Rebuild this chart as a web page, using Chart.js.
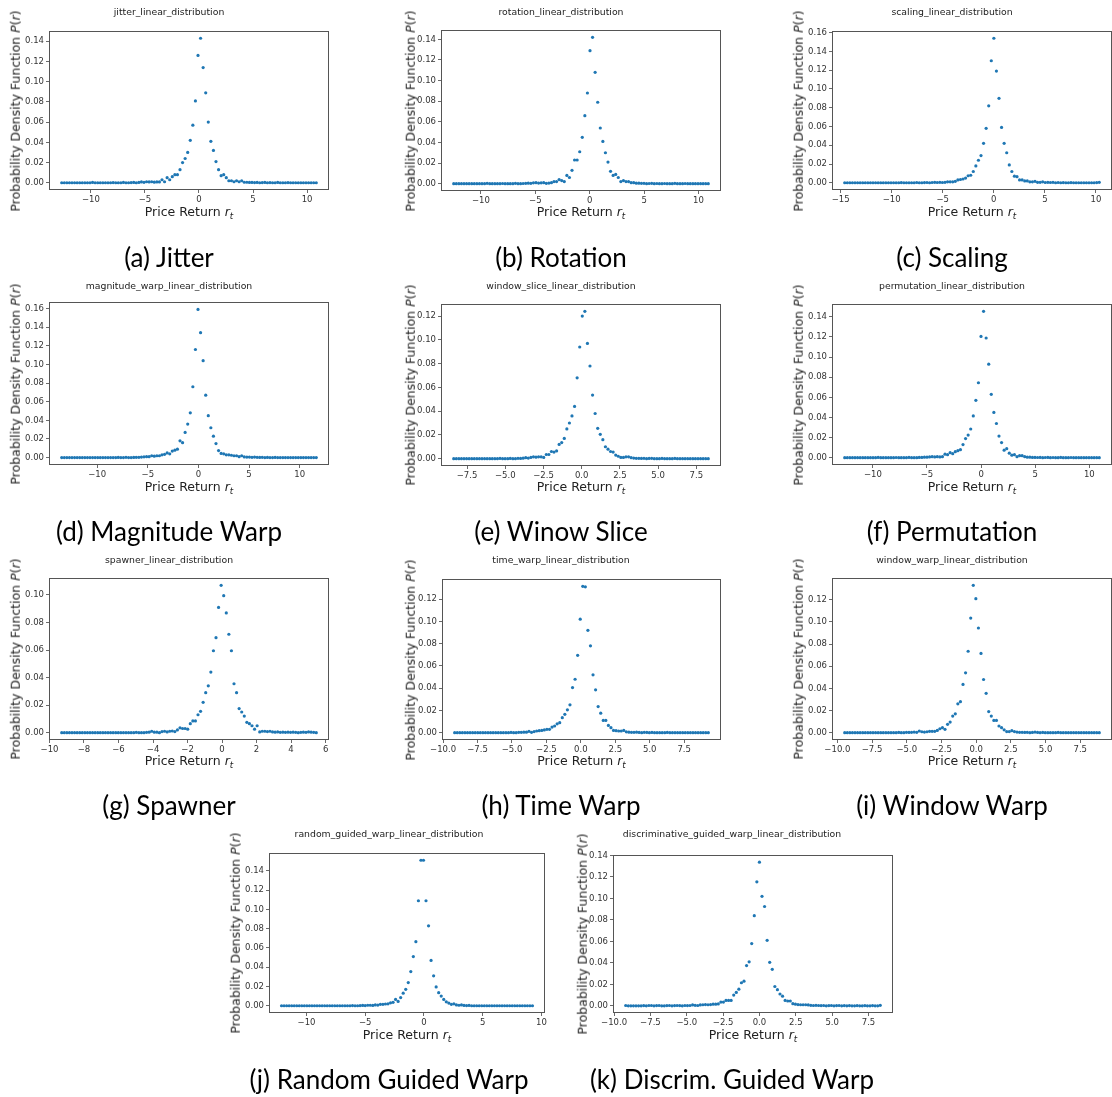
<!DOCTYPE html>
<html lang="en">
<head>
<meta charset="UTF-8">
<title>Linear distributions of augmented price returns</title>
<script src="https://cdn.jsdelivr.net/npm/chart.js"></script>
<style>
  body { margin: 0; background: #fff; }
  #page { position: relative; width: 1112px; height: 1097px; overflow: hidden; background: #fff; font-family: "DejaVu Sans", sans-serif; }
  #page canvas { position: absolute; }
  .lbl { position: absolute; white-space: nowrap; color: #222; line-height: 1; transform: translate(-50%, -50%); }
  .title { font-size: 9.3px; }
  .xlab { font-size: 12.5px; }
  .ylab { font-size: 12.5px; transform: translate(-50%, -50%) rotate(-90deg); }
  .sub { font-size: 0.7em; font-style: italic; position: relative; top: 0.35em; }
  .caption { font-family: Lato, sans-serif; font-size: 26px; color: #000; }
</style>
</head>
<body>
<div id="page"></div>
<script>
// Probability density of price returns, 100 bins per augmentation method
const jitterRange = [-12.7, 10.85];
const jitterPdf = [
  0, 0, 0, 0, 0, 0, 0, 0, 0, 0,
  0, 0, 0.0003, 0, 0, 0, 0, 0, 0, 0,
  0.0002, 0, 0, 0, 0.0003, 0, 0, 0.0002, 0.0003, 0,
  0.0003, 0.0008, 0.0004, 0.001, 0.0008, 0.001, 0.0006, 0.0008, 0.0008, 0.003,
  0.001, 0.005, 0.003, 0.006, 0.008, 0.008, 0.013, 0.02, 0.024, 0.03,
  0.042, 0.057, 0.081, 0.126, 0.143, 0.114, 0.089, 0.06, 0.041, 0.032,
  0.021, 0.013, 0.007, 0.008, 0.005, 0.002, 0.002, 0.001, 0.002, 0.001,
  0.002, 0.0005, 0.0005, 0.0003, 0.0003, 0.0002, 0.0003, 0, 0.0002, 0.0003,
  0, 0.0002, 0, 0, 0.0003, 0, 0, 0, 0.0002, 0,
  0, 0, 0, 0, 0, 0, 0, 0, 0, 0
];

const rotationRange = [-12.5, 10.9];
const rotationPdf = [
  0, 0, 0, 0, 0, 0, 0, 0, 0, 0,
  0, 0, 0, 0.0003, 0, 0, 0, 0, 0, 0.0002,
  0, 0, 0, 0, 0.0003, 0, 0, 0.0002, 0.0003, 0.0005,
  0.0003, 0.0008, 0.001, 0.0006, 0.0008, 0.001, 0.0003, 0.0006, 0.001, 0.002,
  0.002, 0.004, 0.003, 0.002, 0.008, 0.006, 0.013, 0.023, 0.023, 0.031,
  0.045, 0.066, 0.088, 0.129, 0.142, 0.108, 0.079, 0.054, 0.041, 0.03,
  0.021, 0.012, 0.008, 0.009, 0.006, 0.002, 0.003, 0.002, 0.002, 0.001,
  0.001, 0.0005, 0.0005, 0.0003, 0.0003, 0, 0.0002, 0.0003, 0, 0.0002,
  0, 0, 0.0002, 0, 0, 0, 0.0003, 0, 0, 0,
  0.0002, 0, 0, 0, 0, 0, 0, 0, 0, 0
];

const scalingRange = [-14.6, 10.33];
const scalingPdf = [
  0, 0, 0, 0, 0, 0, 0, 0, 0, 0,
  0, 0, 0, 0, 0, 0, 0, 0, 0, 0,
  0, 0, 0.0002, 0, 0, 0, 0, 0, 0.0003, 0,
  0, 0.0002, 0.0003, 0, 0.0003, 0.0005, 0.0003, 0.0005, 0.0003, 0.0005,
  0.001, 0.001, 0.001, 0.0015, 0.003, 0.0035, 0.004, 0.005, 0.0075, 0.008,
  0.012, 0.018, 0.024, 0.029, 0.042, 0.058, 0.082, 0.13, 0.154, 0.119,
  0.09, 0.059, 0.042, 0.032, 0.019, 0.012, 0.007, 0.0065, 0.003, 0.003,
  0.002, 0.002, 0.001, 0.001, 0.0015, 0.0005, 0.0005, 0.001, 0.0003, 0.0005,
  0.0003, 0.0005, 0, 0.0003, 0, 0.0002, 0, 0, 0.0002, 0,
  0, 0, 0, 0, 0, 0, 0, 0, 0.0002, 0.0005
];

const magnitudeWarpRange = [-13.5, 11.64];
const magnitudeWarpPdf = [
  0, 0, 0, 0, 0, 0, 0, 0, 0, 0,
  0, 0, 0, 0, 0, 0, 0, 0, 0, 0,
  0, 0, 0.0002, 0, 0, 0.0003, 0, 0, 0.0002, 0.0003,
  0.0003, 0.0005, 0.0008, 0.001, 0.001, 0.002, 0.0015, 0.002, 0.002, 0.003,
  0.0035, 0.005, 0.004, 0.007, 0.008, 0.009, 0.018, 0.016, 0.027, 0.036,
  0.048, 0.076, 0.116, 0.159, 0.134, 0.104, 0.067, 0.045, 0.032, 0.023,
  0.015, 0.0075, 0.0045, 0.004, 0.003, 0.003, 0.0025, 0.002, 0.002, 0.001,
  0.002, 0.0007, 0.0005, 0.0005, 0.0003, 0.0005, 0.0003, 0.0002, 0.0003, 0,
  0.0002, 0, 0, 0.0002, 0, 0, 0, 0, 0, 0,
  0, 0, 0, 0, 0, 0, 0, 0, 0, 0
];

const windowSliceRange = [-8.37, 8.28];
const windowSlicePdf = [
  0, 0, 0, 0, 0, 0, 0, 0, 0, 0,
  0, 0, 0, 0, 0, 0, 0, 0, 0.0002, 0,
  0, 0, 0.0002, 0, 0, 0.0003, 0.0002, 0.0004, 0.0008, 0.0005,
  0.001, 0.0015, 0.0012, 0.0015, 0.0015, 0.001, 0.0035, 0.0035, 0.006, 0.0055,
  0.0065, 0.012, 0.0135, 0.017, 0.025, 0.03, 0.036, 0.044, 0.068, 0.094,
  0.12, 0.124, 0.097, 0.078, 0.0535, 0.038, 0.0255, 0.0205, 0.016, 0.01,
  0.008, 0.006, 0.0055, 0.003, 0.002, 0.001, 0.001, 0.0015, 0.0015, 0.0008,
  0.0005, 0.0003, 0.0003, 0.0002, 0.0003, 0, 0.0002, 0.0003, 0, 0,
  0, 0.0002, 0, 0, 0, 0, 0.0002, 0, 0, 0,
  0, 0, 0, 0, 0, 0, 0, 0, 0, 0
];

const permutationRange = [-12.6, 10.92];
const permutationPdf = [
  0, 0, 0, 0, 0, 0, 0, 0, 0, 0,
  0, 0, 0, 0.0003, 0, 0, 0, 0, 0, 0,
  0.0002, 0, 0, 0, 0, 0.0003, 0, 0, 0, 0.0003,
  0.0003, 0.0005, 0.0005, 0.0008, 0.001, 0.0008, 0.001, 0.0008, 0.001, 0.0035,
  0.003, 0.005, 0.004, 0.006, 0.007, 0.008, 0.013, 0.019, 0.0225, 0.0285,
  0.0415, 0.057, 0.0745, 0.1205, 0.1455, 0.119, 0.093, 0.063, 0.045, 0.034,
  0.0215, 0.015, 0.0075, 0.009, 0.0045, 0.0025, 0.003, 0.001, 0.002, 0.002,
  0.001, 0.0005, 0.0005, 0.0003, 0.0003, 0.0002, 0.0003, 0, 0.0002, 0.0003,
  0, 0.0002, 0, 0, 0.0003, 0, 0, 0, 0.0002, 0,
  0, 0, 0, 0, 0, 0, 0, 0, 0, 0
];

const spawnerRange = [-9.29, 5.46];
const spawnerPdf = [
  0, 0, 0, 0, 0, 0, 0, 0, 0, 0,
  0, 0, 0, 0, 0, 0, 0, 0, 0, 0,
  0, 0, 0, 0, 0, 0, 0, 0, 0, 0.0002,
  0, 0, 0, 0.0002, 0.0003, 0.001, 0.0003, 0.0003, 0, 0.0008,
  0.001, 0.0005, 0.001, 0.0012, 0.0008, 0.002, 0.0035, 0.003, 0.003, 0.0025,
  0.0065, 0.0085, 0.0085, 0.013, 0.0155, 0.022, 0.029, 0.034, 0.044, 0.0595,
  0.069, 0.091, 0.107, 0.0995, 0.087, 0.0715, 0.0595, 0.0355, 0.029, 0.0175,
  0.015, 0.012, 0.0075, 0.0065, 0.005, 0.0025, 0.005, 0.0005, 0.001, 0.001,
  0.0008, 0.001, 0.0005, 0.0003, 0.0005, 0.0002, 0.0003, 0.0002, 0.0003, 0.0002,
  0.0003, 0.0002, 0, 0.0002, 0.0003, 0.0002, 0.0005, 0.0003, 0.0002, 0
];

const timeWarpRange = [-9.16, 9.25];
const timeWarpPdf = [
  0, 0, 0, 0, 0, 0, 0, 0, 0, 0,
  0, 0, 0, 0, 0, 0, 0, 0, 0, 0,
  0, 0, 0.0002, 0, 0, 0.0003, 0.0003, 0.0005, 0.0005, 0.0012,
  0.0003, 0.001, 0.0015, 0.0018, 0.002, 0.0025, 0.003, 0.003, 0.005, 0.006,
  0.008, 0.009, 0.0135, 0.0165, 0.0205, 0.025, 0.0405, 0.048, 0.0695, 0.102,
  0.1315, 0.131, 0.092, 0.078, 0.052, 0.0385, 0.0235, 0.0175, 0.011, 0.011,
  0.0065, 0.0045, 0.002, 0.0018, 0.0015, 0.0015, 0.002, 0.0008, 0.0005, 0.0003,
  0.0003, 0.0005, 0.0002, 0, 0.0003, 0.0002, 0, 0.0002, 0, 0,
  0, 0, 0, 0.0002, 0, 0, 0, 0, 0, 0,
  0, 0, 0, 0, 0, 0, 0, 0, 0, 0
];

const windowWarpRange = [-9.47, 8.87];
const windowWarpPdf = [
  0, 0, 0, 0, 0, 0, 0, 0, 0, 0,
  0, 0, 0, 0, 0, 0, 0, 0, 0, 0,
  0, 0.0002, 0, 0, 0.0003, 0.0002, 0.0003, 0.0005, 0.0003, 0.0015,
  0.0008, 0.0005, 0.0008, 0.0012, 0.0012, 0.0012, 0.002, 0.0035, 0.0045, 0.003,
  0.0075, 0.0095, 0.015, 0.017, 0.026, 0.028, 0.0435, 0.054, 0.0735, 0.1035,
  0.133, 0.121, 0.0945, 0.0715, 0.048, 0.0355, 0.019, 0.015, 0.011, 0.011,
  0.006, 0.0045, 0.0025, 0.001, 0.001, 0.0018, 0.001, 0.0005, 0.0003, 0.0003,
  0.0002, 0.0003, 0, 0.0002, 0.0005, 0.0002, 0, 0.0002, 0, 0,
  0, 0, 0, 0.0002, 0, 0, 0, 0, 0, 0,
  0, 0, 0, 0, 0, 0, 0, 0, 0, 0
];

const randomGuidedRange = [-12.13, 9.24];
const randomGuidedPdf = [
  0, 0, 0, 0, 0, 0, 0, 0, 0, 0,
  0, 0, 0, 0, 0, 0, 0, 0, 0, 0,
  0, 0, 0, 0, 0, 0, 0, 0, 0.0002, 0,
  0, 0.0002, 0.0003, 0.0002, 0.0005, 0.0005, 0.0003, 0.0008, 0.0007, 0.0015,
  0.0015, 0.0018, 0.002, 0.003, 0.0035, 0.0065, 0.0045, 0.0085, 0.013, 0.017,
  0.024, 0.0355, 0.051, 0.0665, 0.109, 0.151, 0.151, 0.109, 0.083, 0.047,
  0.031, 0.0195, 0.0135, 0.01, 0.0065, 0.004, 0.0028, 0.0015, 0.002, 0.0008,
  0.0005, 0.0008, 0.0003, 0.0002, 0.0003, 0, 0, 0, 0, 0,
  0, 0, 0, 0, 0, 0, 0, 0, 0, 0,
  0, 0, 0, 0, 0, 0, 0, 0, 0, 0
];

const discrimGuidedRange = [-9.2, 8.31];
const discrimGuidedPdf = [
  0.0003, 0, 0, 0, 0, 0, 0, 0.0002, 0, 0.0003,
  0.0003, 0, 0.0002, 0.0003, 0, 0, 0.0002, 0.0003, 0, 0.0002,
  0.0003, 0.0002, 0, 0.0003, 0.0002, 0.0003, 0.0008, 0.0005, 0.0003, 0.0008,
  0.001, 0.0012, 0.001, 0.0012, 0.0015, 0.0015, 0.0018, 0.0035, 0.0035, 0.005,
  0.005, 0.005, 0.01, 0.0125, 0.0155, 0.0215, 0.023, 0.0375, 0.041, 0.058,
  0.084, 0.1155, 0.1338, 0.102, 0.0925, 0.061, 0.0405, 0.034, 0.018, 0.015,
  0.011, 0.009, 0.005, 0.0045, 0.0045, 0.002, 0.0015, 0.0012, 0.001, 0.001,
  0.001, 0.0008, 0.0005, 0.0003, 0.0005, 0.0003, 0.0002, 0.0003, 0, 0.0002,
  0.0003, 0, 0.0002, 0.0003, 0, 0.0002, 0, 0.0002, 0, 0,
  0.0002, 0, 0, 0.0002, 0, 0, 0.0002, 0, 0, 0.0005
];

// tick values
const xTicksBy5 = [-10, -5, 0, 5, 10];
const xTicksScaling = [-15, -10, -5, 0, 5, 10];
const xTicksSlice = [-7.5, -5, -2.5, 0, 2.5, 5, 7.5];
const xTicksBy2 = [-10, -8, -6, -4, -2, 0, 2, 4, 6];
const xTicksWarp = [-10, -7.5, -5, -2.5, 0, 2.5, 5, 7.5];
const yTicks10 = [0, 0.02, 0.04, 0.06, 0.08, 0.1];
const yTicks12 = [0, 0.02, 0.04, 0.06, 0.08, 0.1, 0.12];
const yTicks14 = [0, 0.02, 0.04, 0.06, 0.08, 0.1, 0.12, 0.14];
const yTicks16 = [0, 0.02, 0.04, 0.06, 0.08, 0.1, 0.12, 0.14, 0.16];

// panel layout: plot box [left, top, right, bottom] in page pixels
const panels = [
  { caption: "(a) Jitter", title: "jitter_linear_distribution", pdf: jitterPdf, range: jitterRange,
    xTicks: xTicksBy5, xDigits: 0, yTicks: yTicks14, box: [49, 31, 329, 190], titleAt: [169, 12], captionAt: [169, 257], xLabelY: 212, yLabelX: 16 },
  { caption: "(b) Rotation", title: "rotation_linear_distribution", pdf: rotationPdf, range: rotationRange,
    xTicks: xTicksBy5, xDigits: 0, yTicks: yTicks14, box: [441, 30, 721, 191], titleAt: [561, 12], captionAt: [561, 257], xLabelY: 212, yLabelX: 411 },
  { caption: "(c) Scaling", title: "scaling_linear_distribution", pdf: scalingPdf, range: scalingRange,
    xTicks: xTicksScaling, xDigits: 0, yTicks: yTicks16, box: [832, 31, 1112, 190], titleAt: [952, 12], captionAt: [952, 257], xLabelY: 212, yLabelX: 799 },
  { caption: "(d) Magnitude Warp", title: "magnitude_warp_linear_distribution", pdf: magnitudeWarpPdf, range: magnitudeWarpRange,
    xTicks: xTicksBy5, xDigits: 0, yTicks: yTicks16, box: [49, 302, 329, 465], titleAt: [169, 286], captionAt: [169, 531], xLabelY: 487, yLabelX: 16 },
  { caption: "(e) Winow Slice", title: "window_slice_linear_distribution", pdf: windowSlicePdf, range: windowSliceRange,
    xTicks: xTicksSlice, xDigits: 1, yTicks: yTicks12, box: [441, 304, 721, 466], titleAt: [561, 286], captionAt: [561, 531], xLabelY: 487, yLabelX: 411 },
  { caption: "(f) Permutation", title: "permutation_linear_distribution", pdf: permutationPdf, range: permutationRange,
    xTicks: xTicksBy5, xDigits: 0, yTicks: yTicks14, box: [832, 304, 1112, 465], titleAt: [952, 286], captionAt: [952, 531], xLabelY: 487, yLabelX: 799 },
  { caption: "(g) Spawner", title: "spawner_linear_distribution", pdf: spawnerPdf, range: spawnerRange,
    xTicks: xTicksBy2, xDigits: 0, yTicks: yTicks10, box: [49, 578, 329, 740], titleAt: [169, 560], captionAt: [169, 805], xLabelY: 761, yLabelX: 16 },
  { caption: "(h) Time Warp", title: "time_warp_linear_distribution", pdf: timeWarpPdf, range: timeWarpRange,
    xTicks: xTicksWarp, xDigits: 1, yTicks: yTicks12, box: [442, 579, 721, 740], titleAt: [561, 560], captionAt: [561, 805], xLabelY: 761, yLabelX: 411 },
  { caption: "(i) Window Warp", title: "window_warp_linear_distribution", pdf: windowWarpPdf, range: windowWarpRange,
    xTicks: xTicksWarp, xDigits: 1, yTicks: yTicks12, box: [832, 578, 1112, 740], titleAt: [952, 560], captionAt: [952, 805], xLabelY: 761, yLabelX: 799 },
  { caption: "(j) Random Guided Warp", title: "random_guided_warp_linear_distribution", pdf: randomGuidedPdf, range: randomGuidedRange,
    xTicks: xTicksBy5, xDigits: 0, yTicks: yTicks14, box: [269, 853, 545, 1013], titleAt: [389, 834], captionAt: [389, 1079], xLabelY: 1035, yLabelX: 236 },
  { caption: "(k) Discrim. Guided Warp", title: "discriminative_guided_warp_linear_distribution", pdf: discrimGuidedPdf, range: discrimGuidedRange,
    xTicks: xTicksWarp, xDigits: 1, yTicks: yTicks14, box: [613, 855, 893, 1013], titleAt: [732, 834], captionAt: [732, 1079], xLabelY: 1035, yLabelX: 583 }
];

const page = document.getElementById("page");
const tickFont = { family: "DejaVu Sans", size: 8.5 };
const tickColor = "#333";

// histogram bin centres between the first and last bin
function binCenters(range, n) {
  const step = (range[1] - range[0]) / (n - 1);
  return Array.from({ length: n }, (_, i) => range[0] + i * step);
}

function fmt(v, digits) {
  return v.toFixed(digits).replace("-", "\u2212");
}

function addLabel(cls, html, x, y) {
  const el = document.createElement("div");
  el.className = "lbl " + cls;
  el.innerHTML = html;
  el.style.left = x + "px";
  el.style.top = y + "px";
  page.appendChild(el);
}

// frame around the plot area, like matplotlib spines
const framePlugin = {
  id: "frame",
  afterDraw(chart) {
    const a = chart.chartArea;
    const ctx = chart.ctx;
    ctx.save();
    ctx.strokeStyle = "#555";
    ctx.lineWidth = 1;
    ctx.strokeRect(a.left + 0.5, a.top + 0.5, a.right - a.left - 1, a.bottom - a.top - 1);
    ctx.restore();
  }
};

const padLeft = 50, padTop = 30, padRight = 10, padBottom = 30;

panels.forEach((p) => {
  const [l, t, r, b] = p.box;
  const w = r - l + padLeft + padRight;
  const h = b - t + padTop + padBottom;

  const canvas = document.createElement("canvas");
  canvas.width = w;
  canvas.height = h;
  canvas.style.left = (l - padLeft) + "px";
  canvas.style.top = (t - padTop) + "px";
  page.appendChild(canvas);

  const xs = binCenters(p.range, p.pdf.length);
  const points = p.pdf.map((y, i) => ({ x: xs[i], y: y }));

  // matplotlib style 5% margins around the data
  const xPad = 0.05 * (p.range[1] - p.range[0]);
  const yMax = Math.max(...p.pdf);
  const yMin = Math.min(...p.pdf);
  const yPad = 0.05 * (yMax - yMin);

  new Chart(canvas.getContext("2d"), {
    type: "scatter",
    data: {
      datasets: [{
        data: points,
        backgroundColor: "#1f77b4",
        borderWidth: 0,
        pointRadius: 1.6
      }]
    },
    options: {
      responsive: false,
      animation: false,
      events: [],
      layout: { padding: { left: 0, top: padTop, right: padRight, bottom: 0 } },
      plugins: { legend: { display: false }, tooltip: { enabled: false } },
      scales: {
        x: {
          type: "linear",
          min: p.range[0] - xPad,
          max: p.range[1] + xPad,
          afterBuildTicks: (s) => { s.ticks = p.xTicks.map((v) => ({ value: v })); },
          afterFit: (s) => { s.height = padBottom; },
          ticks: {
            autoSkip: false, maxRotation: 0, padding: 2, font: tickFont, color: tickColor,
            callback: (v) => fmt(v, p.xDigits)
          },
          grid: { drawOnChartArea: false, drawTicks: true, tickLength: 3, color: "#444", lineWidth: 0.8 },
          border: { display: false }
        },
        y: {
          type: "linear",
          min: yMin - yPad,
          max: yMax + yPad,
          afterBuildTicks: (s) => { s.ticks = p.yTicks.map((v) => ({ value: v })); },
          afterFit: (s) => { s.width = padLeft; },
          ticks: {
            autoSkip: false, padding: 2, font: tickFont, color: tickColor,
            callback: (v) => fmt(v, 2)
          },
          grid: { drawOnChartArea: false, drawTicks: true, tickLength: 3, color: "#444", lineWidth: 0.8 },
          border: { display: false }
        }
      }
    },
    plugins: [framePlugin]
  });

  const cx = (l + r) / 2;
  const cy = (t + b) / 2;
  addLabel("title", p.title, p.titleAt[0], p.titleAt[1]);
  addLabel("xlab", 'Price Return <i>r</i><span class="sub">t</span>', cx, p.xLabelY);
  addLabel("ylab", "Probability Density Function <i>P</i>(<i>r</i>)", p.yLabelX, cy);
  addLabel("caption", p.caption, p.captionAt[0], p.captionAt[1]);
});
</script>
</body>
</html>
